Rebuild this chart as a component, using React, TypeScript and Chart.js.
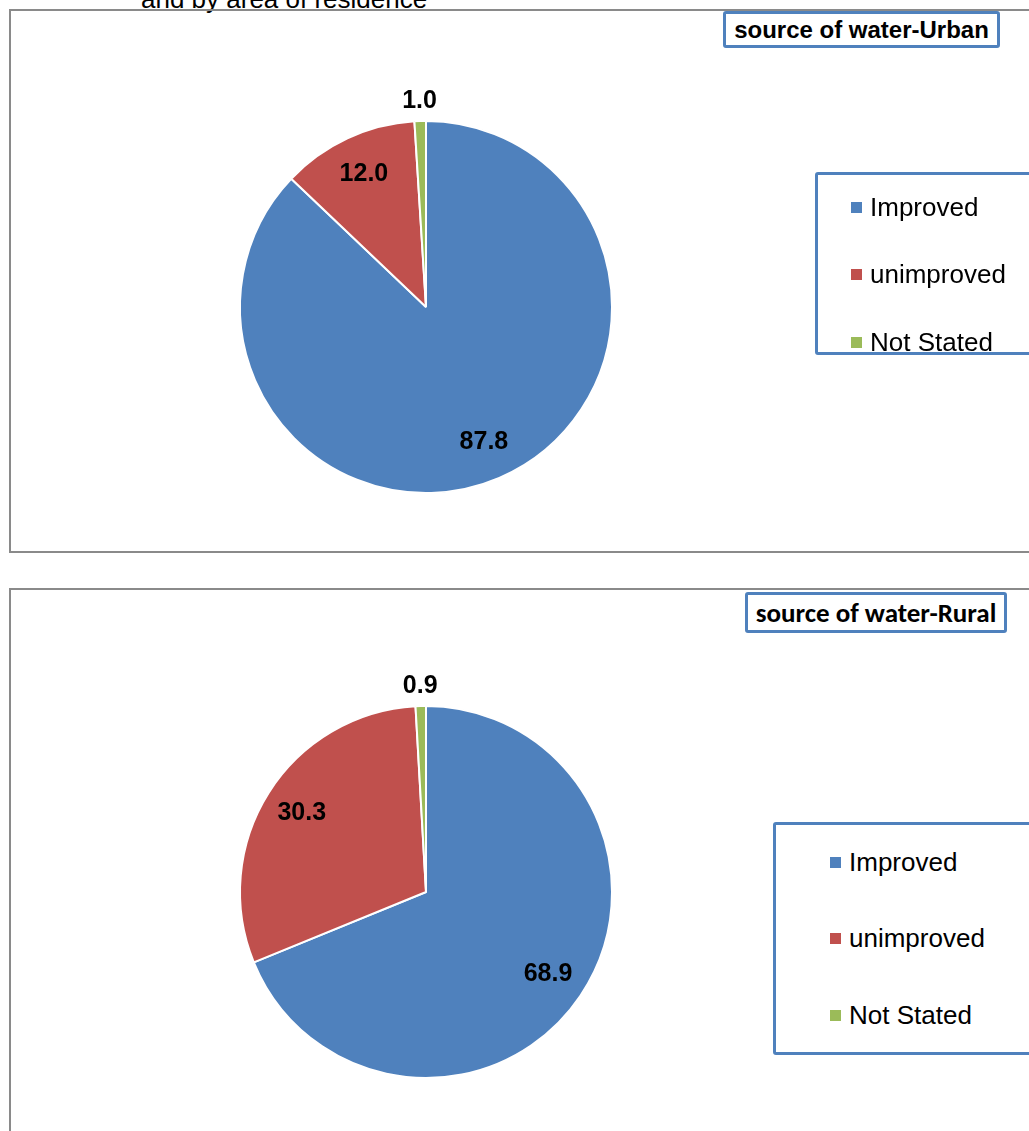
import React, { useEffect, useRef } from "react";
import { Chart, registerables } from "chart.js";

Chart.register(...registerables);

const categories = ["Improved", "unimproved", "Not Stated"];
const urbanValues = [87.8, 12.0, 1.0];
const ruralValues = [68.9, 30.3, 0.9];
const sliceColors = ["#4F81BD", "#C0504D", "#9BBB59"];
const urbanTitle = "source of water-Urban";
const ruralTitle = "source of water-Rural";
const headingText = "and by area of residence";

const ARIAL = "'Liberation Sans', Arial, sans-serif";

const labelPlugin = {
  id: "sliceLabels",
  afterDatasetsDraw(chart: any) {
    const ctx = chart.ctx;
    const meta = chart.getDatasetMeta(0);
    const data = chart.data.datasets[0].data as number[];
    ctx.save();
    ctx.font = `bold 25px ${ARIAL}`;
    ctx.fillStyle = "#000";
    ctx.textAlign = "center";
    ctx.textBaseline = "middle";
    meta.data.forEach((arc: any, i: number) => {
      const p = arc.getProps(["x", "y", "startAngle", "endAngle", "outerRadius"], true);
      const mid = (p.startAngle + p.endAngle) / 2;
      const v = data[i];
      const dist = v < 5 ? p.outerRadius + 20 : p.outerRadius * 0.79;
      const x = p.x + Math.cos(mid) * dist;
      const y = p.y + Math.sin(mid) * dist;
      ctx.fillText(v.toFixed(1), x, y);
    });
    ctx.restore();
  },
};

function PieCanvas(props: {
  values: number[];
  top: number;
  height: number;
  padding: { left: number; right: number; top: number; bottom: number };
}) {
  const ref = useRef<HTMLCanvasElement | null>(null);
  useEffect(() => {
    if (!ref.current) return;
    const chart = new Chart(ref.current, {
      type: "pie",
      data: {
        labels: categories,
        datasets: [
          {
            data: props.values,
            backgroundColor: sliceColors,
            borderColor: "#ffffff",
            borderWidth: 2,
          },
        ],
      },
      options: {
        responsive: false,
        animation: false,
        layout: { padding: props.padding },
        plugins: {
          legend: { display: false },
          tooltip: { enabled: false },
          title: { display: false },
        },
      },
      plugins: [labelPlugin],
    });
    return () => chart.destroy();
  }, []);
  return (
    <canvas
      ref={ref}
      width={1029}
      height={props.height}
      style={{ position: "absolute", left: 0, top: props.top, width: 1029, height: props.height }}
    />
  );
}

function TitleBox(props: {
  text: string;
  left: number;
  top: number;
  width: number;
  height: number;
  font: string;
  size: number;
}) {
  return (
    <div
      style={{
        position: "absolute",
        left: props.left,
        top: props.top,
        width: props.width,
        height: props.height,
        boxSizing: "border-box",
        border: "3px solid #4F81BD",
        borderRadius: 3,
        background: "#fff",
        display: "flex",
        alignItems: "center",
        justifyContent: "center",
        fontFamily: props.font,
        fontWeight: "bold",
        fontSize: props.size,
        color: "#000",
        whiteSpace: "nowrap",
      }}
    >
      {props.text}
    </div>
  );
}

function LegendBox(props: {
  left: number;
  top: number;
  height: number;
  firstRow: number;
  rowGap: number;
  markerLeft: number;
}) {
  return (
    <div
      style={{
        position: "absolute",
        left: props.left,
        top: props.top,
        width: 400,
        height: props.height,
        boxSizing: "border-box",
        border: "3px solid #4F81BD",
        borderRadius: 3,
        background: "#fff",
      }}
    >
      {categories.map((c, i) => (
        <div
          key={c}
          style={{
            position: "absolute",
            left: props.markerLeft,
            top: props.firstRow + i * props.rowGap - 15,
            height: 30,
            display: "flex",
            alignItems: "center",
            fontFamily: ARIAL,
            fontSize: 26,
            color: "#000",
            whiteSpace: "nowrap",
          }}
        >
          <span
            style={{
              display: "inline-block",
              width: 11,
              height: 11,
              background: sliceColors[i],
              marginRight: 8,
            }}
          />
          {c}
        </div>
      ))}
    </div>
  );
}

export default function App() {
  return (
    <div
      style={{
        position: "absolute",
        left: 0,
        top: 0,
        width: 1029,
        height: 1131,
        overflow: "hidden",
        background: "#fff",
      }}
    >
      <div
        style={{
          position: "absolute",
          left: 141,
          top: -16,
          lineHeight: "30px",
          fontFamily: ARIAL,
          fontSize: 26,
          color: "#000",
          whiteSpace: "nowrap",
        }}
      >
        {headingText}
      </div>
      <div
        style={{
          position: "absolute",
          left: 9,
          top: 9,
          width: 1100,
          height: 544,
          boxSizing: "border-box",
          border: "2px solid #8a8a8a",
        }}
      />
      <div
        style={{
          position: "absolute",
          left: 9,
          top: 588,
          width: 1100,
          height: 700,
          boxSizing: "border-box",
          border: "2px solid #8a8a8a",
        }}
      />
      <PieCanvas
        values={urbanValues}
        top={0}
        height={560}
        padding={{ left: 239, right: 416, top: 120, bottom: 66 }}
      />
      <PieCanvas
        values={ruralValues}
        top={580}
        height={551}
        padding={{ left: 239, right: 416, top: 125, bottom: 52 }}
      />
      <TitleBox text={urbanTitle} left={723} top={11} width={277} height={37} font={ARIAL} size={24} />
      <TitleBox
        text={ruralTitle}
        left={745}
        top={592}
        width={262}
        height={41}
        font={"Carlito, Lato, 'Open Sans', sans-serif"}
        size={27}
      />
      <LegendBox left={815} top={172} height={183} firstRow={32} rowGap={67.5} markerLeft={33} />
      <LegendBox left={773} top={822} height={233} firstRow={37} rowGap={76.5} markerLeft={54} />
    </div>
  );
}
